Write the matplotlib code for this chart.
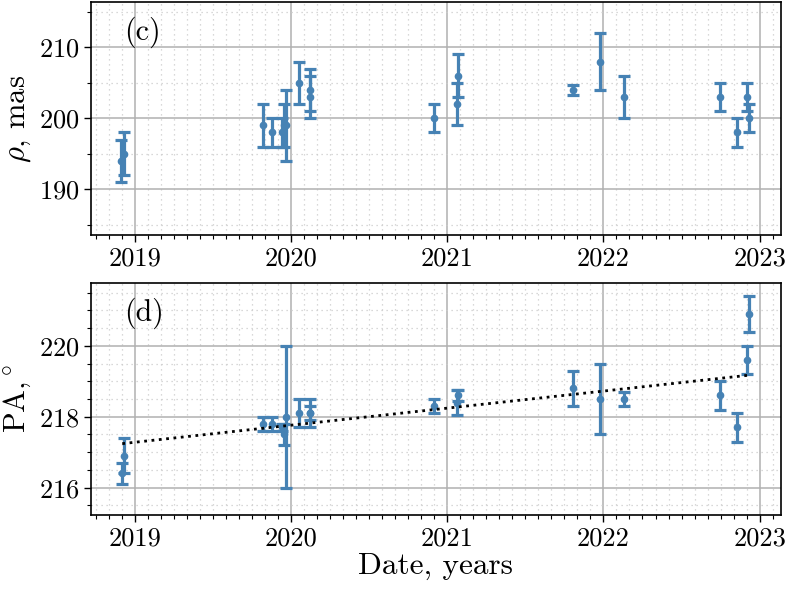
import matplotlib
matplotlib.use("Agg")
import matplotlib.pyplot as plt
from matplotlib.ticker import MultipleLocator
import numpy as np

# separation rho (mas) vs date
years_rho = [2018.915, 2018.93, 2019.823, 2019.88, 2019.94, 2019.955, 2019.97,
             2020.051, 2020.124, 2020.124, 2020.915, 2021.064, 2021.07,
             2021.806, 2021.979, 2022.132, 2022.748, 2022.856, 2022.917, 2022.93]
rho = [194, 195, 199, 198, 198, 199, 199, 205, 204, 203, 200, 202, 206,
       204, 208, 203, 203, 198, 203, 200]
rho_err = [3, 3, 3, 2, 2, 3, 5, 3, 3, 3, 2, 3, 3, 0.7, 4, 3, 2, 2, 2, 2]

# position angle (deg) vs date
years_pa = [2018.92, 2018.93, 2019.823, 2019.88, 2019.94, 2019.955, 2019.97,
            2020.051, 2020.124, 2020.124, 2020.915, 2021.064, 2021.07,
            2021.806, 2021.979, 2022.132, 2022.748, 2022.856, 2022.917, 2022.934]
pa = [216.4, 216.9, 217.8, 217.8, 217.7, 217.5, 218.0, 218.1, 218.1, 218.1,
      218.3, 218.4, 218.6, 218.8, 218.5, 218.5, 218.6, 217.7, 219.6, 220.9]
pa_err = [0.3, 0.5, 0.2, 0.2, 0.1, 0.3, 2.0, 0.4, 0.4, 0.2, 0.2, 0.35, 0.15,
          0.5, 1.0, 0.2, 0.4, 0.4, 0.4, 0.5]

# linear trend of PA
trend_slope = 0.481
trend_at_2019 = 217.28

year_ticks = [2019, 2020, 2021, 2022, 2023]

plt.rcParams.update({
    "font.family": "serif",
    "font.serif": ["cmr10"],
    "mathtext.fontset": "cm",
    "axes.formatter.use_mathtext": True,
    "font.size": 19,
    "axes.unicode_minus": False,
})

color = "#4682b4"

fig = plt.figure(figsize=(7.88, 5.94), dpi=100)
ax1 = fig.add_axes([0.1155, 0.604, 0.8755, 0.3926])
ax2 = fig.add_axes([0.1155, 0.133, 0.8755, 0.3906])

ax1.errorbar(years_rho, rho, yerr=rho_err, fmt="o", color=color, ms=4.5,
             elinewidth=2.3, capsize=4, capthick=2.3, zorder=3)
ax2.errorbar(years_pa, pa, yerr=pa_err, fmt="o", color=color, ms=4.5,
             elinewidth=2.3, capsize=4, capthick=2.3, zorder=3)

tx = np.array([min(years_pa), max(years_pa)])
ax2.plot(tx, trend_at_2019 + trend_slope * (tx - 2019), ":", color="black",
         lw=2, zorder=4)

for ax in (ax1, ax2):
    ax.set_xlim(2018.72, 2023.136)
    ax.set_xticks(year_ticks)
    ax.set_xticklabels([str(y) for y in year_ticks])
    ax.xaxis.set_minor_locator(MultipleLocator(1 / 12))
    ax.grid(True, which="major", color="#b0b0b0", lw=1.1)
    ax.grid(True, which="minor", color="#cccccc", lw=0.9, ls=(0, (1, 3)))
    ax.set_axisbelow(True)
    ax.tick_params(which="major", length=5, width=1)
    ax.tick_params(which="minor", length=3, width=0.8)
    for s in ax.spines.values():
        s.set_linewidth(1.2)

ax1.set_ylim(183.5, 216.4)
ax1.set_yticks([190, 200, 210])
ax1.yaxis.set_minor_locator(MultipleLocator(5))
ax1.set_ylabel(r"$\rho$, mas", fontsize=22, labelpad=4)
ax1.text(0.048, 0.87, "(c)", transform=ax1.transAxes, fontsize=21.5,
         va="center", ha="left")

ax2.set_ylim(215.23, 221.77)
ax2.set_yticks([216, 218, 220])
ax2.yaxis.set_minor_locator(MultipleLocator(0.5))
ax2.set_ylabel(r"PA,$^\circ$", fontsize=22, labelpad=4)
ax2.set_xlabel("Date, years", fontsize=22.5, labelpad=1)
ax2.text(0.048, 0.87, "(d)", transform=ax2.transAxes, fontsize=21.5,
         va="center", ha="left")

fig.savefig("out.png", dpi=100)
